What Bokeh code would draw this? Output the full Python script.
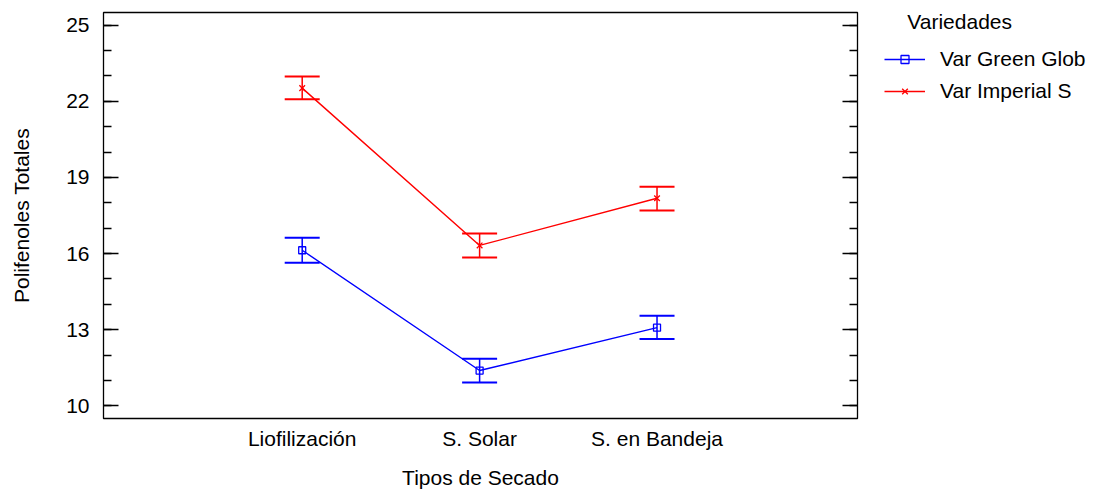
from bokeh.plotting import figure
from bokeh.layouts import row
from bokeh.models import (FixedTicker, LinearAxis, Range1d, Legend, LegendItem,
                          Whisker, TeeHead, ColumnDataSource)
from bokeh.embed import file_html
from bokeh.resources import INLINE

categories = ["Liofilización", "S. Solar", "S. en Bandeja"]
series_names = ["Var Green Glob", "Var Imperial S"]
legend_title = "Variedades"
green_mean = [16.13, 11.39, 13.08]
green_low = [15.64, 10.92, 12.63]
green_high = [16.62, 11.85, 13.55]
red_mean = [22.52, 16.32, 18.18]
red_low = [22.08, 15.84, 17.70]
red_high = [22.98, 16.79, 18.63]
y_major = [10, 13, 16, 19, 22, 25]
y_minor = [10, 11, 12, 13, 14, 15, 16, 17, 18, 19, 20, 21, 22, 23, 24, 25]

FONT = "Liberation Sans"
FS = "21px"
BLUE = "#0000FF"
RED = "#FF0000"

xs = [i + 1 for i in range(len(categories))]
X_START, X_END = -0.12, 4.13

p = figure(width=860, height=496,
           x_range=Range1d(X_START, X_END), y_range=Range1d(9.5, 25.5),
           output_backend="svg", toolbar_location=None,
           min_border_left=103, min_border_top=12, min_border_bottom=78,
           min_border_right=3)
p.xgrid.visible = False
p.ygrid.visible = False
p.outline_line_color = "black"
p.outline_line_width = 1.3
p.background_fill_color = "white"
p.border_fill_color = "white"

# x axis
xa = p.xaxis[0]
xa.ticker = FixedTicker(ticks=xs)
xa.major_label_overrides = {x: c for x, c in zip(xs, categories)}
xa.major_tick_in = 0
xa.major_tick_out = 0
xa.minor_tick_in = 0
xa.minor_tick_out = 0
xa.axis_line_color = None
xa.major_label_text_font = FONT
xa.major_label_text_font_size = FS
xa.major_label_text_color = "black"
xa.major_label_standoff = 8
xa.axis_label = "Tipos de Secado"
xa.axis_label_text_font = FONT
xa.axis_label_text_font_size = FS
xa.axis_label_text_font_style = "normal"
xa.axis_label_text_color = "black"
xa.axis_label_standoff = 13

# y axis
ya = p.yaxis[0]
ya.ticker = FixedTicker(ticks=y_major, minor_ticks=y_minor)
ya.major_tick_in = 15
ya.major_tick_out = 0
ya.minor_tick_in = 8
ya.minor_tick_out = 0
ya.major_tick_line_width = 1.3
ya.minor_tick_line_width = 1.3
ya.axis_line_color = None
ya.major_label_text_font = FONT
ya.major_label_text_font_size = FS
ya.major_label_text_color = "black"
ya.major_label_standoff = 14
ya.axis_label = "Polifenoles Totales"
ya.axis_label_text_font = FONT
ya.axis_label_text_font_size = FS
ya.axis_label_text_font_style = "normal"
ya.axis_label_text_color = "black"
ya.axis_label_standoff = 30

# second y axis drawn at the right edge of the frame (ticks only)
ra = LinearAxis(ticker=FixedTicker(ticks=y_major, minor_ticks=y_minor),
                fixed_location=X_END)
ra.major_label_overrides = {t: "" for t in y_major}
ra.major_tick_in = 0
ra.major_tick_out = 15
ra.minor_tick_in = 0
ra.minor_tick_out = 8
ra.major_tick_line_width = 1.3
ra.minor_tick_line_width = 1.3
ra.axis_line_color = None
ra.major_label_standoff = 0
p.add_layout(ra, "left")

series = [
    (series_names[0], green_mean, green_low, green_high, BLUE, "square", 7),
    (series_names[1], red_mean, red_low, red_high, RED, "x", 8),
]

# legend panel (separate canvas to the right of the chart); its own ranges
# keep the series' points out of view so that only the legend shows
pl = figure(width=242, height=496, x_range=Range1d(0, 0.5), y_range=Range1d(0, 1),
            output_backend="svg", toolbar_location=None,
            x_axis_location=None, y_axis_location=None, min_border=0)
pl.xgrid.visible = False
pl.ygrid.visible = False
pl.outline_line_color = None
pl.background_fill_color = "white"
pl.border_fill_color = "white"

items = []
for name, mean, low, high, color, marker, msize in series:
    src = ColumnDataSource(dict(x=xs, mean=mean, low=low, high=high))
    w = Whisker(base="x", upper="high", lower="low", source=src,
                line_color=color, line_width=1.5,
                upper_head=TeeHead(size=35, line_color=color, line_width=2),
                lower_head=TeeHead(size=35, line_color=color, line_width=2))
    p.add_layout(w)
    p.line("x", "mean", source=src, line_color=color, line_width=1.4)
    p.scatter("x", "mean", source=src, marker=marker, size=msize,
              line_color=color, fill_color=None, line_width=1.3)
    lln = pl.line("x", "mean", source=src, line_color=color, line_width=1.4)
    lmk = pl.scatter("x", "mean", source=src, marker=marker, size=msize,
                     line_color=color, fill_color=None, line_width=1.3)
    items.append(LegendItem(label=name, renderers=[lln, lmk]))

legend = Legend(items=items, location=(24, 315),
                title="\u00a0\u00a0\u00a0\u00a0" + legend_title,
                title_text_font=FONT, title_text_font_size=FS,
                title_text_font_style="normal", title_text_color="black",
                title_standoff=13,
                label_text_font=FONT, label_text_font_size=FS,
                label_text_color="black",
                glyph_width=41, glyph_height=20, label_standoff=15,
                spacing=8, padding=0, margin=0,
                border_line_alpha=0, background_fill_alpha=0)
pl.add_layout(legend, "center")

layout = row(p, pl, spacing=0)
open("out.html", "w").write(file_html(layout, INLINE))
